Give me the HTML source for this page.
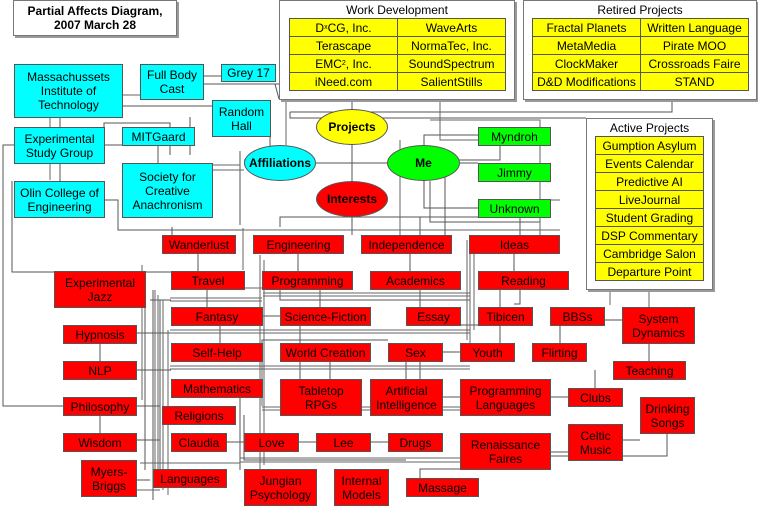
<!DOCTYPE html>
<html><head><meta charset="utf-8"><style>
body{margin:0;width:758px;height:506px;background:#fff;position:relative;overflow:hidden;font-family:"Liberation Sans",sans-serif}
.b{position:absolute;box-sizing:border-box;border:1px solid #555;display:flex;align-items:center;justify-content:center;text-align:center;font-size:12px;line-height:14px;color:#000}
.r{background:#f00}.c{background:#0ff}.g{background:#0f0}.y{background:#ff0}
.f{position:absolute;box-sizing:border-box;border:1px solid #777;background:#fff;box-shadow:2px 2px 0 #999}
.t{position:absolute;text-align:center;font-size:12px}
.e{position:absolute;box-sizing:border-box;border:1px solid #555;border-radius:50%;display:flex;align-items:center;justify-content:center;font-weight:bold;font-size:12px}
svg{position:absolute;left:0;top:0}
</style></head><body>
<svg width="758" height="506" fill="none" stroke="#555" stroke-width="1">
<path d="M352 99V181M316 163H387M275 84H279M203 76H221M203 84H275L279 99M672 99V112H290M290 112V118H586M424 145V135H478M424 180V208H478M460 163H478M500 145V160H445V235M190 117V155M270 120V160H244M104 145H126M60 163V181M122 106H212M60 117V127M104 127V123H170V155M30 145H3V406H63M158 145V163M12 181V272H220M104 200H118V230H330M172 227V235M240 151V225M352 217V235M352 217H280V227M352 217H420V235M400 217H520V235M430 181H430V222H540V235M198 253V271M298 253V271M410 253V271M514 253V271M207 289V307M320 289V307M420 289V307M500 289V307M145 290V470M150 300H171M153 290V500M160 300V470M136 333H171M100 343V361M136 370H171M136 406H160M100 415V433M136 440H160M136 480H150M262 316H280M220 325V343M226 442H244M298 442H316M370 442H388M280 325H300V397M330 361V379M406 361V379M420 361V379M442 352H460M500 325V343M514 304H520V289H505M560 325V343M597 195V260M604 320H622M597 260H649V361M550 452H568M622 440H640M667 433V456H550M595 370V388M420 397H613M230 397H240V470M244 415V460H406M388 460H406M460 469H420V478M225 380H262V340H388M280 290V300H470M460 325H478"/>
<path stroke="#666" d="M150 95H50V180M155 290V480M158 295V485M163 300V490M168 330V495M142 265V400M260 255V470M264 260V465M467 240V340M470 235V345M474 240V330M243 230H470M243 228V270M263 293H470M263 296H470M170 298H262M170 301H262M170 330H470M170 333H470M170 366H470M170 369H470M262 407H460M262 410H460M240 458H460M240 462H460M140 463H240M136 490H160M400 140V235M212 165H240M212 170H244M440 100V140H478M430 120H540V235M560 200H520M430 230H560M610 290V305M649 290V307M262 360V406M236 288H262M286 100V145"/>
</svg>
<div class="f" style="left:13px;top:0;width:164px;height:36px"></div>
<div class="t" style="left:13px;top:4px;width:164px;font-weight:bold;line-height:14px">Partial Affects Diagram,<br>2007 March 28</div>
<div class="f" style="left:279px;top:0;width:236px;height:100px"></div>
<div class="t" style="left:279px;top:3px;width:236px">Work Development</div>
<div class="f" style="left:523px;top:0;width:234px;height:100px"></div>
<div class="t" style="left:523px;top:3px;width:234px">Retired Projects</div>
<div class="f" style="left:586px;top:118px;width:127px;height:172px"></div>
<div class="t" style="left:586px;top:121px;width:127px">Active Projects</div>
<div class="b y" style="left:289px;top:18px;width:109px;height:19px">D<sub style="font-size:7px">x</sub>CG, Inc.</div>
<div class="b y" style="left:397px;top:18px;width:109px;height:19px">WaveArts</div>
<div class="b y" style="left:289px;top:36px;width:109px;height:19px">Terascape</div>
<div class="b y" style="left:397px;top:36px;width:109px;height:19px">NormaTec, Inc.</div>
<div class="b y" style="left:289px;top:54px;width:109px;height:19px">EMC<sup style="font-size:7px">2</sup>, Inc.</div>
<div class="b y" style="left:397px;top:54px;width:109px;height:19px">SoundSpectrum</div>
<div class="b y" style="left:289px;top:72px;width:109px;height:19px">iNeed.com</div>
<div class="b y" style="left:397px;top:72px;width:109px;height:19px">SalientStills</div>
<div class="b y" style="left:532px;top:18px;width:109px;height:19px">Fractal Planets</div>
<div class="b y" style="left:640px;top:18px;width:109px;height:19px">Written Language</div>
<div class="b y" style="left:532px;top:36px;width:109px;height:19px">MetaMedia</div>
<div class="b y" style="left:640px;top:36px;width:109px;height:19px">Pirate MOO</div>
<div class="b y" style="left:532px;top:54px;width:109px;height:19px">ClockMaker</div>
<div class="b y" style="left:640px;top:54px;width:109px;height:19px">Crossroads Faire</div>
<div class="b y" style="left:532px;top:72px;width:109px;height:19px">D&amp;D Modifications</div>
<div class="b y" style="left:640px;top:72px;width:109px;height:19px">STAND</div>
<div class="b y" style="left:595px;top:136px;width:109px;height:19px">Gumption Asylum</div>
<div class="b y" style="left:595px;top:154px;width:109px;height:19px">Events Calendar</div>
<div class="b y" style="left:595px;top:172px;width:109px;height:19px">Predictive AI</div>
<div class="b y" style="left:595px;top:190px;width:109px;height:19px">LiveJournal</div>
<div class="b y" style="left:595px;top:208px;width:109px;height:19px">Student Grading</div>
<div class="b y" style="left:595px;top:226px;width:109px;height:19px">DSP Commentary</div>
<div class="b y" style="left:595px;top:244px;width:109px;height:19px">Cambridge Salon</div>
<div class="b y" style="left:595px;top:262px;width:109px;height:19px">Departure Point</div>
<div class="b c" style="left:14px;top:64px;width:109px;height:54px">Massachussets<br>Institute of<br>Technology</div>
<div class="b c" style="left:140px;top:64px;width:64px;height:36px">Full Body<br>Cast</div>
<div class="b c" style="left:221px;top:64px;width:55px;height:18px">Grey 17</div>
<div class="b c" style="left:212px;top:100px;width:59px;height:37px">Random<br>Hall</div>
<div class="b c" style="left:14px;top:127px;width:91px;height:37px">Experimental<br>Study Group</div>
<div class="b c" style="left:122px;top:127px;width:73px;height:19px">MITGaard</div>
<div class="b c" style="left:14px;top:181px;width:91px;height:37px">Olin College of<br>Engineering</div>
<div class="b c" style="left:122px;top:163px;width:91px;height:55px">Society for<br>Creative<br>Anachronism</div>
<div class="e" style="left:244px;top:145px;width:72px;height:36px;background:#0ff">Affiliations</div>
<div class="e" style="left:316px;top:109px;width:72px;height:36px;background:#ff0">Projects</div>
<div class="e" style="left:387px;top:145px;width:73px;height:36px;background:#0f0">Me</div>
<div class="e" style="left:316px;top:181px;width:72px;height:36px;background:#f00">Interests</div>
<div class="b g" style="left:478px;top:127px;width:73px;height:19px">Myndroh</div>
<div class="b g" style="left:478px;top:163px;width:73px;height:19px">Jimmy</div>
<div class="b g" style="left:478px;top:199px;width:73px;height:19px">Unknown</div>
<div class="b r" style="left:162px;top:235px;width:74px;height:19px">Wanderlust</div>
<div class="b r" style="left:253px;top:235px;width:91px;height:19px">Engineering</div>
<div class="b r" style="left:361px;top:235px;width:91px;height:19px">Independence</div>
<div class="b r" style="left:469px;top:235px;width:91px;height:19px">Ideas</div>
<div class="b r" style="left:54px;top:271px;width:92px;height:37px">Experimental<br>Jazz</div>
<div class="b r" style="left:171px;top:271px;width:74px;height:19px">Travel</div>
<div class="b r" style="left:262px;top:271px;width:91px;height:19px">Programming</div>
<div class="b r" style="left:370px;top:271px;width:91px;height:19px">Academics</div>
<div class="b r" style="left:478px;top:271px;width:91px;height:19px">Reading</div>
<div class="b r" style="left:171px;top:307px;width:92px;height:19px">Fantasy</div>
<div class="b r" style="left:280px;top:307px;width:91px;height:19px">Science-Fiction</div>
<div class="b r" style="left:406px;top:307px;width:55px;height:19px">Essay</div>
<div class="b r" style="left:478px;top:307px;width:55px;height:19px">Tibicen</div>
<div class="b r" style="left:550px;top:307px;width:55px;height:19px">BBSs</div>
<div class="b r" style="left:622px;top:307px;width:73px;height:37px">System<br>Dynamics</div>
<div class="b r" style="left:63px;top:325px;width:74px;height:19px">Hypnosis</div>
<div class="b r" style="left:171px;top:343px;width:92px;height:19px">Self-Help</div>
<div class="b r" style="left:280px;top:343px;width:91px;height:19px">World Creation</div>
<div class="b r" style="left:388px;top:343px;width:55px;height:19px">Sex</div>
<div class="b r" style="left:460px;top:343px;width:55px;height:19px">Youth</div>
<div class="b r" style="left:532px;top:343px;width:55px;height:19px">Flirting</div>
<div class="b r" style="left:63px;top:361px;width:74px;height:19px">NLP</div>
<div class="b r" style="left:613px;top:361px;width:73px;height:19px">Teaching</div>
<div class="b r" style="left:171px;top:379px;width:92px;height:19px">Mathematics</div>
<div class="b r" style="left:280px;top:379px;width:82px;height:37px">Tabletop<br>RPGs</div>
<div class="b r" style="left:370px;top:379px;width:73px;height:37px">Artificial<br>Intelligence</div>
<div class="b r" style="left:460px;top:379px;width:91px;height:37px">Programming<br>Languages</div>
<div class="b r" style="left:568px;top:388px;width:55px;height:19px">Clubs</div>
<div class="b r" style="left:640px;top:397px;width:55px;height:37px">Drinking<br>Songs</div>
<div class="b r" style="left:63px;top:397px;width:74px;height:19px">Philosophy</div>
<div class="b r" style="left:162px;top:406px;width:74px;height:19px">Religions</div>
<div class="b r" style="left:568px;top:424px;width:55px;height:37px">Celtic<br>Music</div>
<div class="b r" style="left:63px;top:433px;width:74px;height:19px">Wisdom</div>
<div class="b r" style="left:171px;top:433px;width:56px;height:19px">Claudia</div>
<div class="b r" style="left:244px;top:433px;width:55px;height:19px">Love</div>
<div class="b r" style="left:316px;top:433px;width:55px;height:19px">Lee</div>
<div class="b r" style="left:388px;top:433px;width:55px;height:19px">Drugs</div>
<div class="b r" style="left:460px;top:433px;width:91px;height:37px">Renaissance<br>Faires</div>
<div class="b r" style="left:81px;top:460px;width:56px;height:37px">Myers-<br>Briggs</div>
<div class="b r" style="left:153px;top:469px;width:74px;height:19px">Languages</div>
<div class="b r" style="left:244px;top:469px;width:73px;height:37px">Jungian<br>Psychology</div>
<div class="b r" style="left:334px;top:469px;width:55px;height:37px">Internal<br>Models</div>
<div class="b r" style="left:406px;top:478px;width:73px;height:19px">Massage</div>
</body></html>
